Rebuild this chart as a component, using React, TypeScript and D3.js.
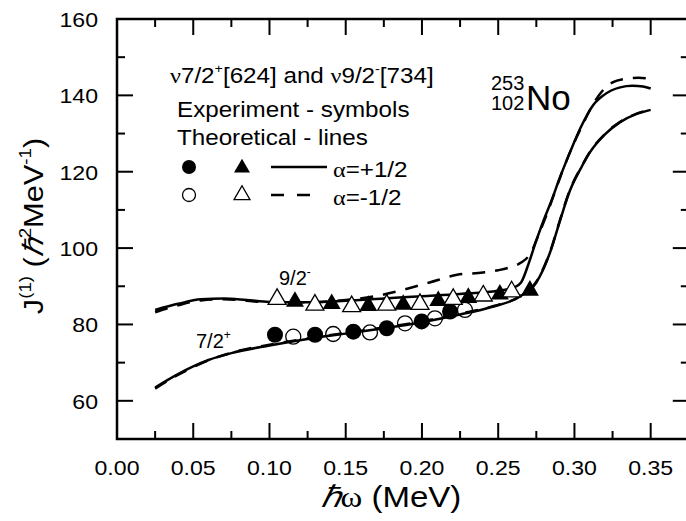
import * as d3 from "d3";
import React from "react";

// ħω (MeV) tick values and J(1) tick values
const omegaTicks = [0, 0.05, 0.1, 0.15, 0.2, 0.25, 0.3, 0.35];
const omegaMinor = [0.025, 0.075, 0.125, 0.175, 0.225, 0.275, 0.325, 0.375];
const jTicks = [60, 80, 100, 120, 140, 160];
const jMinor = [50, 70, 90, 110, 130, 150];

// theoretical curves, [ħω, J(1)]
const th72Plus = [
  [0.025, 63.5], [0.04, 67], [0.05, 69], [0.06, 70.7], [0.075, 72.5], [0.1, 74.5],
  [0.125, 76.2], [0.15, 77.6], [0.175, 79], [0.2, 80.6], [0.225, 82.6], [0.245, 84.5],
  [0.265, 87.5], [0.275, 91], [0.285, 100], [0.29, 106.5], [0.297, 115], [0.305, 121.5],
  [0.31, 125], [0.32, 129.8], [0.33, 133], [0.34, 135], [0.35, 136.2],
];
const th72Minus = [
  [0.025, 63.2], [0.04, 66.8], [0.05, 68.8], [0.06, 70.6], [0.075, 72.6], [0.1, 74.7],
  [0.125, 76.3], [0.15, 77.8], [0.175, 79.2], [0.2, 80.8], [0.225, 82.8], [0.245, 84.6],
  [0.265, 87.6], [0.275, 91.2], [0.285, 100.2], [0.29, 106.7], [0.297, 115.2], [0.305, 121.6],
  [0.31, 125.1], [0.32, 129.9], [0.33, 133.1], [0.34, 135.1], [0.35, 136.3],
];
const th92Plus = [
  [0.025, 83.8], [0.04, 85.4], [0.055, 86.6], [0.07, 86.8], [0.085, 86.4], [0.1, 85.9],
  [0.125, 85.8], [0.15, 86.2], [0.175, 86.8], [0.2, 87.4], [0.225, 88], [0.25, 88.8],
  [0.26, 89.6], [0.265, 91], [0.27, 96], [0.275, 102], [0.28, 107.5], [0.285, 112.5],
  [0.29, 118], [0.297, 125], [0.304, 131.5], [0.312, 137.3], [0.319, 140], [0.33, 142.1],
  [0.338, 142.5], [0.345, 142.3], [0.35, 141.8],
];
const th92Minus = [
  [0.025, 83.2], [0.04, 85], [0.055, 86.3], [0.07, 86.6], [0.085, 86.2], [0.1, 85.8],
  [0.125, 85.8], [0.15, 86.4], [0.168, 87.3], [0.188, 89.1], [0.205, 91], [0.223, 93],
  [0.24, 93.6], [0.25, 94.2], [0.258, 95], [0.265, 96.2], [0.271, 98.5], [0.277, 104],
  [0.282, 109], [0.287, 114.5], [0.292, 120], [0.298, 126], [0.305, 132], [0.312, 137.5],
  [0.318, 141], [0.325, 143.4], [0.333, 144.3], [0.342, 144.6], [0.35, 144.3],
];

// experimental points
const exp72PlusW = [0.1036, 0.1299, 0.155, 0.1769, 0.1998, 0.2184];
const exp72PlusJ = [77.3, 77.3, 78.1, 79, 80.8, 83.4];
const exp72MinusW = [0.1156, 0.1418, 0.1659, 0.1889, 0.2085, 0.2282];
const exp72MinusJ = [76.8, 77.5, 77.9, 80.3, 81.6, 83.8];
const exp92PlusW = [0.1167, 0.1408, 0.1648, 0.1877, 0.2107, 0.2304, 0.2511, 0.2708];
const exp92PlusJ = [86, 85.4, 84.9, 85.2, 86.2, 87, 87.9, 88.9];
const exp92MinusW = [0.105, 0.1298, 0.1539, 0.1769, 0.1987, 0.2205, 0.2402, 0.2588];
const exp92MinusJ = [86.6, 85.1, 84.7, 85.1, 85.3, 86.6, 87.5, 88.6];

const font = "'Liberation Sans', Arial, sans-serif";
const serif = "'Liberation Serif', 'Times New Roman', serif";

// the figure's lettering is a bit wider than Arial, so stretch it sideways
const T = ({x, y, size, anchor = "start", rotate = 0, children}: any) => (
  <text
    transform={`translate(${x},${y}) rotate(${rotate}) scale(1.1,1)`}
    fontSize={size}
    textAnchor={anchor}
  >
    {children}
  </text>
);

export default function App() {
  const width = 686;
  const height = 521;

  const x = d3.scaleLinear().domain([0, 0.375]).range([117, 688.8]);
  const y = d3.scaleLinear().domain([50, 160]).range([439, 19]);

  const left = x(0);
  const right = x(0.375);
  const top = y(160);
  const bottom = y(50);

  const line = d3.line<number[]>()
    .x(d => x(d[0]))
    .y(d => y(d[1]))
    .curve(d3.curveMonotoneX);

  const tri = d3.symbol().type(d3.symbolTriangle).size(140)();
  const triSmall = d3.symbol().type(d3.symbolTriangle).size(110)();

  const major = 16;
  const minor = 8;

  return (
    <svg
      width={width}
      height={height}
      style={{position: "absolute", left: 0, top: 0, background: "white"}}
      fontFamily={font}
    >
      {/* theory lines */}
      <path d={line(th72Plus) || ""} fill="none" stroke="black" strokeWidth={2.5} />
      <path d={line(th72Minus) || ""} fill="none" stroke="black" strokeWidth={2.5} strokeDasharray="13,10" />
      <path d={line(th92Plus) || ""} fill="none" stroke="black" strokeWidth={2.5} />
      <path d={line(th92Minus) || ""} fill="none" stroke="black" strokeWidth={2.5} strokeDasharray="13,10" />

      {/* experiment */}
      {exp72PlusW.map((w, i) => (
        <circle key={`c1-${i}`} cx={x(w)} cy={y(exp72PlusJ[i])} r={8} fill="black" />
      ))}
      {exp72MinusW.map((w, i) => (
        <circle key={`c2-${i}`} cx={x(w)} cy={y(exp72MinusJ[i])} r={7.5} fill="none" stroke="black" strokeWidth={1.3} />
      ))}
      {exp92PlusW.map((w, i) => (
        <path key={`t1-${i}`} d={tri || ""} transform={`translate(${x(w)},${y(exp92PlusJ[i])})`} fill="black" />
      ))}
      {exp92MinusW.map((w, i) => (
        <path key={`t2-${i}`} d={tri || ""} transform={`translate(${x(w)},${y(exp92MinusJ[i])})`} fill="white" stroke="black" strokeWidth={1.3} />
      ))}

      {/* frame */}
      <rect x={left} y={top} width={right - left} height={bottom - top} fill="none" stroke="black" strokeWidth={2.5} />
      {omegaTicks.map(t => (
        <g key={`xt-${t}`} stroke="black" strokeWidth={2}>
          <line x1={x(t)} x2={x(t)} y1={bottom} y2={bottom - major} />
          <line x1={x(t)} x2={x(t)} y1={top} y2={top + major} />
        </g>
      ))}
      {omegaMinor.map(t => (
        <g key={`xm-${t}`} stroke="black" strokeWidth={2}>
          <line x1={x(t)} x2={x(t)} y1={bottom} y2={bottom - minor} />
          <line x1={x(t)} x2={x(t)} y1={top} y2={top + minor} />
        </g>
      ))}
      {jTicks.map(t => (
        <g key={`yt-${t}`} stroke="black" strokeWidth={2}>
          <line x1={left} x2={left + major} y1={y(t)} y2={y(t)} />
          <line x1={right} x2={right - major} y1={y(t)} y2={y(t)} />
        </g>
      ))}
      {jMinor.map(t => (
        <g key={`ym-${t}`} stroke="black" strokeWidth={2}>
          <line x1={left} x2={left + minor} y1={y(t)} y2={y(t)} />
          <line x1={right} x2={right - minor} y1={y(t)} y2={y(t)} />
        </g>
      ))}

      {/* tick labels */}
      {omegaTicks.map(t => (
        <T key={`xl-${t}`} x={x(t)} y={475} size={21} anchor="middle">
          {d3.format(".2f")(t)}
        </T>
      ))}
      {jTicks.map(t => (
        <T key={`yl-${t}`} x={98} y={y(t) + 8} size={21} anchor="end">
          {t}
        </T>
      ))}

      {/* axis titles */}
      <T x={391} y={507} size={30} anchor="middle">
        <tspan fontFamily={serif} fontStyle="italic">ℏ</tspan>
        <tspan fontFamily={serif}>ω</tspan>
        <tspan> (MeV)</tspan>
      </T>
      <T x={43} y={226} size={28} anchor="middle" rotate={-90}>
        <tspan>J</tspan>
        <tspan fontSize={17} dy={-12}>(1)</tspan>
        <tspan dy={12}> (</tspan>
        <tspan fontFamily={serif} fontStyle="italic">ℏ</tspan>
        <tspan fontSize={17} dy={-12}>2</tspan>
        <tspan dy={12}>MeV</tspan>
        <tspan fontSize={17} dy={-12}>-1</tspan>
        <tspan dy={12}>)</tspan>
      </T>

      {/* nucleus label */}
      <text x={491} y={90} fontSize={20}>253</text>
      <text x={491} y={110} fontSize={20}>102</text>
      <text x={526} y={110} fontSize={35}>No</text>

      {/* band labels */}
      <text x={279} y={285} fontSize={20}>
        9/2<tspan fontSize={12} dy={-9}>-</tspan>
      </text>
      <text x={196} y={348} fontSize={20}>
        7/2<tspan fontSize={12} dy={-9}>+</tspan>
      </text>

      {/* legend */}
      <T x={170} y={83} size={22}>
        <tspan fontFamily={serif}>ν</tspan>7/2<tspan fontSize={13} dy={-10}>+</tspan>
        <tspan dy={10}>[624] and </tspan>
        <tspan fontFamily={serif}>ν</tspan>9/2<tspan fontSize={13} dy={-10}>-</tspan>
        <tspan dy={10}>[734]</tspan>
      </T>
      <T x={177} y={117} size={22}>Experiment - symbols</T>
      <T x={177} y={145} size={22}>Theoretical - lines</T>

      <circle cx={189} cy={167} r={7} fill="black" />
      <path d={triSmall || ""} transform="translate(242,168)" fill="black" />
      <line x1={271} x2={327} y1={167} y2={167} stroke="black" strokeWidth={2.5} />
      <T x={333} y={177} size={22}>
        <tspan fontFamily={serif}>α</tspan>=+1/2
      </T>

      <circle cx={189} cy={195} r={6.5} fill="none" stroke="black" strokeWidth={1.3} />
      <path d={triSmall || ""} transform="translate(242,195)" fill="white" stroke="black" strokeWidth={1.3} />
      <line x1={271} x2={322} y1={195} y2={195} stroke="black" strokeWidth={2.5} strokeDasharray="13,13" />
      <T x={333} y={205} size={22}>
        <tspan fontFamily={serif}>α</tspan>=-1/2
      </T>
    </svg>
  );
}
